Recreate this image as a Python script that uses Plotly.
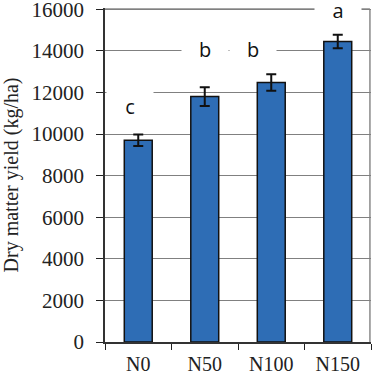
import plotly.graph_objects as go

categories = ["N0", "N50", "N100", "N150"]
yield_kg_ha = [9700, 11800, 12480, 14450]
error_kg_ha = [280, 450, 400, 320]
letters = ["c", "b", "b", "a"]
letter_x = [-0.12, 1.0, 1.73, 3.0]
letter_y = [11350, 14100, 14100, 15950]
y_ticks = [0, 2000, 4000, 6000, 8000, 10000, 12000, 14000, 16000]
y_tick_labels = ["0", "2000", "4000", "6000", "8000", "10000", "12000", "14000", "16000"]

fig = go.Figure()
fig.add_trace(go.Bar(
    x=categories, y=yield_kg_ha, width=0.42,
    marker=dict(color="#2E6DB5", line=dict(color="#111111", width=1.5)),
    error_y=dict(type="data", array=error_kg_ha, color="#111111", thickness=2, width=5),
))

# gray top and right border
fig.add_shape(type="line", xref="paper", yref="paper", x0=0, x1=0.996, y0=0.997, y1=0.997,
              line=dict(color="#8a8a8a", width=1.5), layer="below")
fig.add_shape(type="line", xref="paper", yref="paper", x0=0.996, x1=0.996, y0=0, y1=0.997,
              line=dict(color="#8a8a8a", width=1.5), layer="below")

for lx, ly, t in zip(letter_x, letter_y, letters):
    fig.add_annotation(x=lx, y=ly, xref="x", yref="y", text=t, showarrow=False,
                       font=dict(family="Open Sans", size=20, color="#111111"),
                       bgcolor="white", width=44, height=36)

fig.update_layout(
    width=373, height=375,
    margin=dict(l=105, r=2, t=8, b=33),
    paper_bgcolor="white", plot_bgcolor="rgba(0,0,0,0)",
    showlegend=False,
)
fig.update_xaxes(
    type="category", tickson="boundaries", ticks="outside", ticklen=6, tickcolor="#222222",
    showline=True, linecolor="#333333", linewidth=1.5, showgrid=False,
    tickfont=dict(family="Liberation Serif", size=20, color="#222222"),
    ticklabelstandoff=3,
    range=[-0.5, 3.5], automargin=False,
)
fig.update_yaxes(
    range=[0, 16060], tickvals=y_ticks, ticktext=y_tick_labels,
    ticks="outside", ticklen=7, tickcolor="#222222",
    showline=True, linecolor="#333333", linewidth=1.5,
    showgrid=True, gridcolor="#808080", gridwidth=1, zeroline=False,
    tickfont=dict(family="Liberation Serif", size=21, color="#222222"),
    ticklabelstandoff=8, automargin=False, ticklabeloverflow="allow",
    title=dict(text="Dry matter yield (kg/ha)", font=dict(family="Liberation Serif", size=20, color="#222222"), standoff=12),
)

fig.write_html("out.html", config={"displayModeBar": False},
               post_script="document.body.style.margin='0';document.body.style.overflow='hidden';")
